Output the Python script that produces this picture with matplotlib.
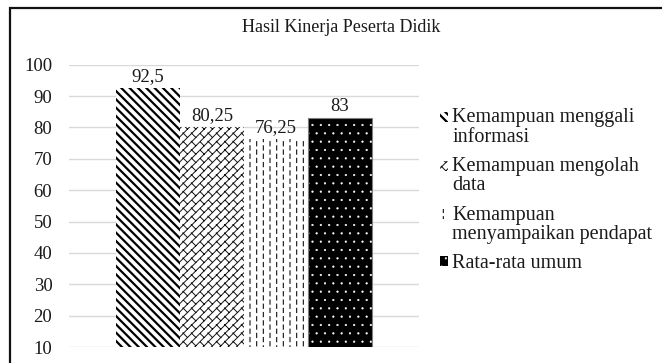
import warnings
import numpy as np
import matplotlib
matplotlib.use("Agg")
import matplotlib.pyplot as plt
import matplotlib.hatch as mhatch
from matplotlib.path import Path
from matplotlib.patches import Rectangle

warnings.filterwarnings("ignore")

# ---- data -------------------------------------------------------------
title = "Hasil Kinerja Peserta Didik"
series_labels = [
    "Kemampuan menggali\ninformasi",
    "Kemampuan mengolah\ndata",
    "Kemampuan\nmenyampaikan pendapat",
    "Rata-rata umum",
]
values = [92.5, 80.25, 76.25, 83]
y_ticks = [10, 20, 30, 40, 50, 60, 70, 80, 90, 100]


# ---- custom hatch patterns -------------------------------------------
class DashedVerticalHatch(mhatch.HatchPatternBase):
    """'!' : staggered dashed vertical lines."""

    def __init__(self, hatch, density):
        n = hatch.count('!')
        self.num_cols = int(n * density * 2.5) if n else 0
        self.num_dashes = 12
        self.num_vertices = self.num_cols * (self.num_dashes + 1) * 2

    def set_vertices_and_codes(self, vertices, codes):
        if not self.num_cols:
            return
        k = 0
        period = 1.0 / self.num_dashes
        for c in range(self.num_cols):
            x = (c + 0.5) / self.num_cols
            off = (c % 2) * period / 2 - period / 2
            for d in range(self.num_dashes + 1):
                y0 = off + d * period
                vertices[k] = (x, y0)
                vertices[k + 1] = (x, y0 + period * 0.5)
                codes[k] = Path.MOVETO
                codes[k + 1] = Path.LINETO
                k += 2


class WeaveHatch(mhatch.HatchPatternBase):
    """'w' : diagonal lines with short cross strokes (small weave)."""

    def __init__(self, hatch, density):
        n = hatch.count('w')
        self.num = int(n * density * 2) if n else 0
        self.num_vertices = ((self.num * 2 + 1) * 2 + self.num * self.num * 2
                             if self.num else 0)

    def set_vertices_and_codes(self, vertices, codes):
        if not self.num:
            return
        k = 0
        p = 1.0 / self.num
        for i in range(-self.num, self.num + 1):
            vertices[k] = (i * p, 0.0)
            vertices[k + 1] = (i * p + 1.0, 1.0)
            codes[k] = Path.MOVETO
            codes[k + 1] = Path.LINETO
            k += 2
        for i in range(self.num):
            for j in range(self.num):
                cx = (i + 0.5) * p
                cy = (j + 0.5) * p
                vertices[k] = (cx - p * 0.55, cy + p * 0.55)
                vertices[k + 1] = (cx, cy)
                codes[k] = Path.MOVETO
                codes[k + 1] = Path.LINETO
                k += 2


mhatch._hatch_types.append(DashedVerticalHatch)
mhatch._hatch_types.append(WeaveHatch)

# ---- figure -----------------------------------------------------------
plt.rcParams["font.family"] = ["Liberation Serif", "DejaVu Serif"]
W, H = 662, 363
fig = plt.figure(figsize=(W / 100, H / 100), dpi=100)
fig.patch.set_facecolor("white")

ax = fig.add_axes([69 / W, 16 / H, 350 / W, 282.3 / H])
ax.set_ylim(10, 100)
ax.set_xlim(-0.5, 0.5)
ax.set_yticks(y_ticks)
ax.set_xticks([])
ax.tick_params(axis="y", length=0, pad=12, labelsize=13.5, colors="#1a1a1a")
for s in ax.spines.values():
    s.set_visible(False)
ax.yaxis.grid(True, color="#d9d9d9", linewidth=1.0)
ax.set_axisbelow(True)

bar_w = 0.183
hatches = ["\\\\\\\\", "w", "!", ".."]
faces = ["white", "white", "white", "black"]
hcolors = ["black", "#111111", "#111111", "white"]
hlw = [1.6, 0.7, 0.8, 0.35]

bars = []
for i, (v, lab) in enumerate(zip(values, series_labels)):
    x = (i - 1.5) * bar_w
    b = ax.bar(x, v, width=bar_w, color=faces[i], edgecolor=hcolors[i],
               linewidth=0, hatch=hatches[i], label=lab, zorder=2)
    for p in b.patches:
        if hasattr(p, "set_hatch_linewidth"):
            p.set_hatch_linewidth(hlw[i])
    if i == 3:
        ax.bar(x, v, width=bar_w, fill=False, edgecolor="#7f7f7f",
               linewidth=0.8, zorder=3)
    txt = f"{v:g}".replace(".", ",")
    ax.bar_label(b, labels=[txt], padding=2, fontsize=13.5, color="#1a1a1a")
    bars.append(b)

fig.text(0.515, 1 - 28 / H, title, ha="center", va="center",
         fontsize=13, color="#1a1a1a")

leg = ax.legend(loc="upper left", bbox_to_anchor=(440 / W, 1 - 108 / H),
                bbox_transform=fig.transFigure, frameon=False, fontsize=14.5,
                handlelength=0.38, handleheight=0.38, handletextpad=0.22,
                labelspacing=0.5, borderpad=0, borderaxespad=0)
for t in leg.get_texts():
    t.set_color("#1a1a1a")
    t.set_linespacing(1.05)
# keys sit beside the first line of each label
for h, lab, lw in zip(leg.legend_handles, series_labels, hlw):
    if hasattr(h, "set_hatch_linewidth"):
        h.set_hatch_linewidth(lw)
    n_extra = lab.count("\n")
    if n_extra:
        h.set_y(h.get_y() + 7.4 * n_extra)

# outer frame (left and top edges)
fig.add_artist(Rectangle((10 / W, -0.2), 1.0, 1.2 - 8 / H,
                         transform=fig.transFigure, fill=False,
                         edgecolor="#111111", linewidth=1.6))

fig.savefig("out.png", dpi=100)
